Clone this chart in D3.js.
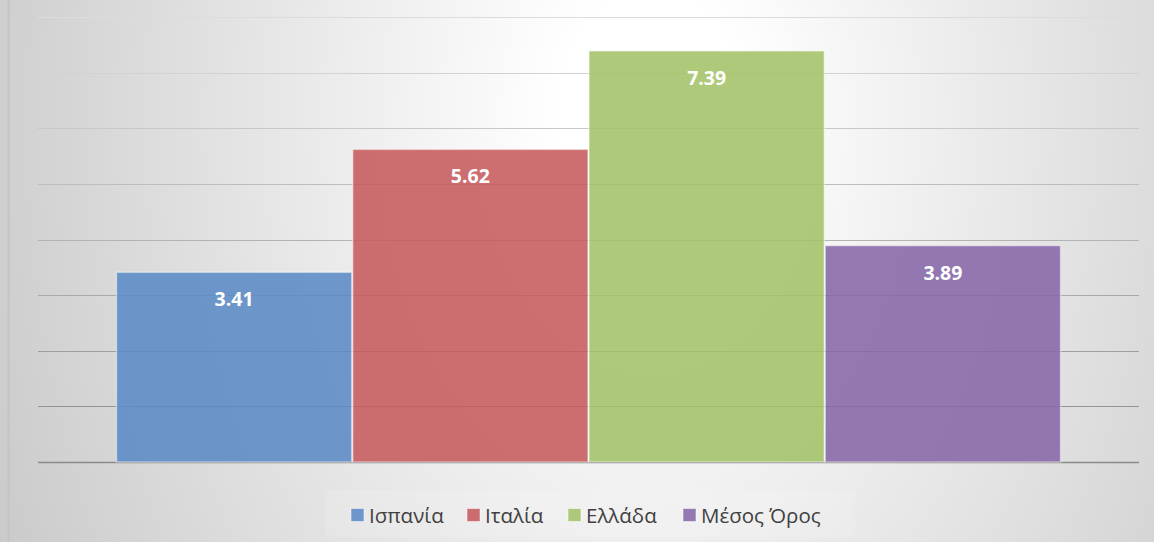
<!DOCTYPE html>
<html>
<head>
<meta charset="utf-8">
<script src="https://cdn.jsdelivr.net/npm/d3@7"></script>
<style>
  html, body { margin: 0; padding: 0; background: #d6d6d6; }
  svg { display: block; }
</style>
</head>
<body>
<div class="chart"></div>
<script>
// chart data
var seriesNames = ["Ισπανία", "Ιταλία", "Ελλάδα", "Μέσος Όρος"];
var seriesValues = [3.41, 5.62, 7.39, 3.89];
var seriesColors = ["#5b8bc6", "#c65a5c", "#a2c166", "#8567a8"];
var yTicks = [0, 1, 2, 3, 4, 5, 6, 7, 8];

var svgWidth = 1154, svgHeight = 542;
var margin = { top: 17, right: 15, bottom: 80, left: 38 };
var width = 1139 - margin.left;
var height = 462 - margin.top;

var svg = d3.select(".chart")
  .append("svg")
  .attr("width", svgWidth)
  .attr("height", svgHeight);

var defs = svg.append("defs");
var bg = defs.append("radialGradient")
  .attr("id", "bg")
  .attr("gradientUnits", "userSpaceOnUse")
  .attr("cx", 650).attr("cy", 120).attr("r", 740)
  .attr("gradientTransform", "translate(650,120) scale(1,1.45) translate(-650,-120)");
bg.append("stop").attr("offset", "0%").attr("stop-color", "#ffffff");
bg.append("stop").attr("offset", "12%").attr("stop-color", "#ffffff");
bg.append("stop").attr("offset", "100%").attr("stop-color", "#c8c8c8");

// background
svg.append("rect")
  .attr("x", 0).attr("y", 0)
  .attr("width", svgWidth).attr("height", svgHeight)
  .attr("fill", "url(#bg)");
svg.append("line")
  .attr("x1", 8.5).attr("x2", 8.5)
  .attr("y1", 0).attr("y2", svgHeight)
  .attr("stroke", "#c4c4c4").attr("stroke-width", 2);

var chartGroup = svg.append("g")
  .attr("transform", `translate(${margin.left}, ${margin.top})`);

var yScale = d3.scaleLinear()
  .domain([0, 8])
  .range([height, 0]);

var xScale = d3.scaleBand()
  .domain(seriesNames)
  .range([0, width])
  .paddingInner(0)
  .paddingOuter(0.33);

// gridlines, darker toward the bottom
var gridColor = d3.scaleLinear()
  .domain([8, 0])
  .range(["#dcdcdc", "#8a8a8a"]);

chartGroup.append("g")
  .selectAll("line")
  .data(yTicks)
  .enter()
  .append("line")
  .attr("x1", 0)
  .attr("x2", width)
  .attr("y1", d => Math.round(yScale(d)) + 0.5)
  .attr("y2", d => Math.round(yScale(d)) + 0.5)
  .attr("stroke", d => gridColor(d))
  .attr("stroke-width", d => d === 0 ? 1.5 : 1.2);

// bars
var data = seriesNames.map((n, i) => ({ name: n, value: seriesValues[i], color: seriesColors[i] }));

chartGroup.selectAll("rect.bar")
  .data(data)
  .enter()
  .append("rect")
  .attr("class", "bar")
  .attr("x", d => xScale(d.name) + 0.5)
  .attr("width", xScale.bandwidth() - 1)
  .attr("y", d => yScale(d.value))
  .attr("height", d => yScale(0) - yScale(d.value))
  .attr("fill", d => d.color)
  .attr("fill-opacity", 0.88)
  .attr("stroke", "rgba(255,255,255,0.45)")
  .attr("stroke-width", 1.5);

// value labels
chartGroup.selectAll("text.val")
  .data(data)
  .enter()
  .append("text")
  .attr("class", "val")
  .attr("x", d => xScale(d.name) + xScale.bandwidth() / 2)
  .attr("y", d => yScale(d.value) + 34)
  .attr("text-anchor", "middle")
  .attr("font-family", "'Open Sans', 'DejaVu Sans', sans-serif")
  .attr("font-weight", "bold")
  .attr("font-size", "19.5px")
  .attr("fill", "#ffffff")
  .text(d => d.value.toFixed(2));

// legend
var legend = svg.append("g");
legend.append("rect")
  .attr("x", 325).attr("y", 490)
  .attr("width", 530).attr("height", 47)
  .attr("fill", "#ffffff").attr("fill-opacity", 0.12);

var legendX = [351, 467, 568, 683];
var items = legend.selectAll("g.item")
  .data(data)
  .enter()
  .append("g")
  .attr("class", "item")
  .attr("transform", (d, i) => `translate(${legendX[i]}, 515)`);

items.append("rect")
  .attr("x", 0).attr("y", -6.5)
  .attr("width", 13).attr("height", 13)
  .attr("fill", d => d.color)
  .attr("fill-opacity", 0.88)
  .attr("stroke", "rgba(255,255,255,0.5)");

items.append("text")
  .attr("x", 18)
  .attr("y", 7.5)
  .attr("font-family", "'Open Sans', 'DejaVu Sans', sans-serif")
  .attr("font-size", "20.5px")
  .attr("fill", "#404040")
  .text(d => d.name);
</script>
</body>
</html>
